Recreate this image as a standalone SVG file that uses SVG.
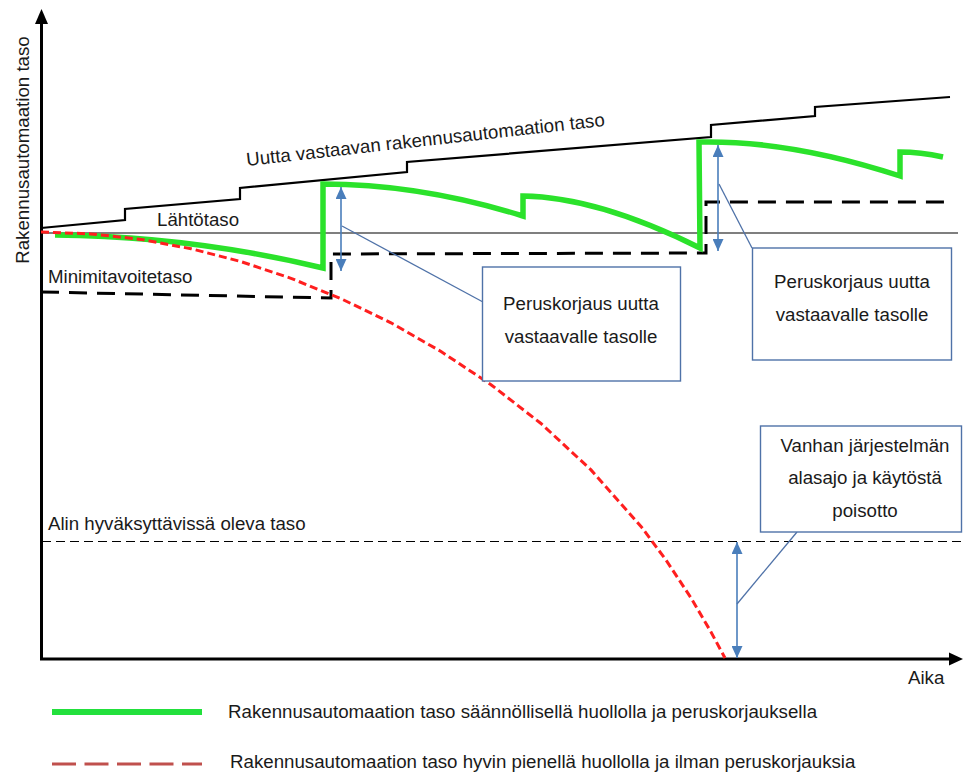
<svg xmlns="http://www.w3.org/2000/svg" width="963" height="774" viewBox="0 0 963 774">
  <style>
    text { font-family: "Liberation Sans", Arial, sans-serif; font-size: 18.7px; fill: #1a1a1a; }
    .axis { stroke: #000; stroke-width: 3; fill: none; }
    .thin { stroke: #000; stroke-width: 1.2; fill: none; }
    .stair { stroke: #000; stroke-width: 2.2; fill: none; stroke-linejoin: miter; }
    .target { stroke: #000; stroke-width: 3; fill: none; stroke-dasharray: 18 10; }
    .minimum { stroke: #000; stroke-width: 1.2; fill: none; stroke-dasharray: 9 5; }
    .maintained { stroke: #2be22b; stroke-width: 5.5; fill: none; stroke-linejoin: miter; }
    .neglected { stroke: #ff1f1f; stroke-width: 3; fill: none; stroke-dasharray: 8 4; }
    .dim { stroke: #4a7ebb; stroke-width: 1.6; fill: none; marker-start: url(#bh); marker-end: url(#bh); }
    .lead { stroke: #4f72a8; stroke-width: 1.3; fill: none; }
    .box { fill: #fff; stroke: #4f72a8; stroke-width: 1.4; }
    .mid { text-anchor: middle; }
  </style>
  <defs>
    <marker id="bh" viewBox="0 0 12 11" refX="12" refY="5.5" markerWidth="12" markerHeight="11" orient="auto-start-reverse" markerUnits="userSpaceOnUse">
      <path d="M0,0 L12,5.5 L0,11 z" fill="#4a7ebb"/>
    </marker>
  </defs>

  <rect width="963" height="774" fill="#fff"/>

  <!-- axes -->
  <g id="axes">
    <line class="axis" x1="41.5" y1="660" x2="41.5" y2="22"/>
    <path d="M41.5,9 L35,24 L48,24 z" fill="#000"/>
    <line class="axis" x1="40" y1="659" x2="950" y2="659"/>
    <path d="M963,659 L949,652.5 L949,665.5 z" fill="#000"/>
    <text x="29" y="150" class="mid" transform="rotate(-90 29 150)">Rakennusautomaation taso</text>
    <text x="908" y="684">Aika</text>
  </g>

  <!-- reference levels -->
  <g id="start-level">
    <line class="thin" x1="41" y1="233" x2="958" y2="233"/>
    <text x="157" y="226">Lähtötaso</text>
  </g>
  <g id="lowest-level">
    <line class="minimum" x1="42" y1="541.5" x2="962" y2="541.5"/>
    <text x="48" y="530">Alin hyväksyttävissä oleva taso</text>
  </g>
  <g id="new-equivalent-level">
    <path class="stair" d="M41,228 L125,220 L125,209 L240,199 L240,188 L407,172 L407,162 L711,137 L711,125 L815,116 L815,107 L950,97"/>
    <text x="247" y="166" transform="rotate(-6.4 247 166)">Uutta vastaavan rakennusautomaation taso</text>
  </g>
  <g id="minimum-target">
    <path class="target" d="M41,292 L331,298 L331,254 L706,253 L706,202 L945,202"/>
    <text x="48" y="283">Minimitavoitetaso</text>
  </g>

  <!-- level curves -->
  <g id="maintained-level">
    <path class="maintained" d="M55,235 Q190,236 323,268 L323,184 Q420,184 523,216 L523,196 Q598,197 700,248 L699,142 Q790,140 900,176 L900,152 Q920,152 943,157"/>
  </g>
  <g id="neglected-level">
    <polyline class="neglected" points="41,232 91,233.9 141,239.4 191,248.7 241,261.6 291,278.3 341,298.7 391,322.8 441,351.5 491,384.7 541,423.5 591,469.9 641,526.4 666,560 691,597.9 711,632 725,658"/>
  </g>

  <!-- dimension arrows and leader lines -->
  <g id="connectors">
    <line class="dim" x1="341" y1="187" x2="341" y2="271"/>
    <line class="dim" x1="718" y1="145" x2="718" y2="251"/>
    <line class="dim" x1="737" y1="542" x2="737" y2="658"/>
    <line class="lead" x1="342" y1="226" x2="483" y2="302"/>
    <line class="lead" x1="719" y1="184" x2="752" y2="248"/>
    <line class="lead" x1="737" y1="604" x2="797" y2="532"/>
  </g>

  <!-- callout boxes -->
  <g id="callout-renovation-1">
    <rect class="box" x="482.5" y="267" width="198" height="114"/>
    <text x="581" y="310" class="mid">Peruskorjaus uutta</text>
    <text x="581" y="343" class="mid">vastaavalle tasolle</text>
  </g>
  <g id="callout-renovation-2">
    <rect class="box" x="752.5" y="248" width="199" height="112"/>
    <text x="852" y="288" class="mid">Peruskorjaus uutta</text>
    <text x="852" y="321" class="mid">vastaavalle tasolle</text>
  </g>
  <g id="callout-decommission">
    <rect class="box" x="760.5" y="426" width="201" height="106"/>
    <text x="865" y="452" class="mid">Vanhan järjestelmän</text>
    <text x="865" y="484" class="mid">alasajo ja käytöstä</text>
    <text x="865" y="517" class="mid">poisotto</text>
  </g>

  <!-- legend -->
  <g id="legend">
    <line x1="52" y1="712" x2="202" y2="712" stroke="#22e03c" stroke-width="6"/>
    <text x="228" y="718">Rakennusautomaation taso säännöllisellä huollolla ja peruskorjauksella</text>
    <line x1="52" y1="764" x2="202" y2="764" stroke="#c0504d" stroke-width="3" stroke-dasharray="24 8.5"/>
    <text x="230" y="768">Rakennusautomaation taso hyvin pienellä huollolla ja ilman peruskorjauksia</text>
  </g>
</svg>
